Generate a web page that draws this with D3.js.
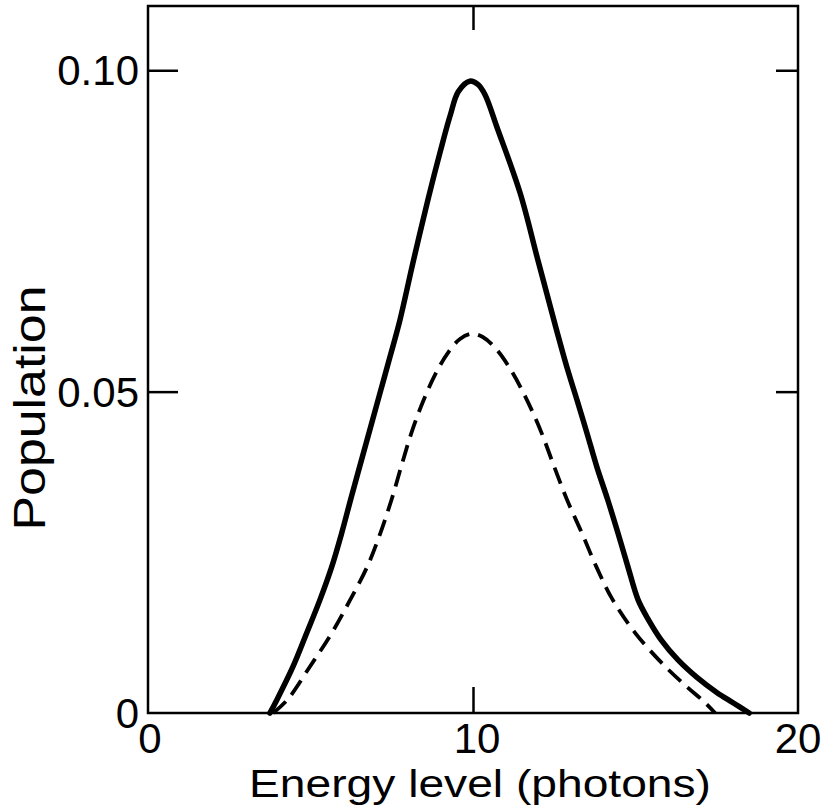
<!DOCTYPE html>
<html><head><meta charset="utf-8">
<script src="https://cdn.jsdelivr.net/npm/d3@7"></script>
<style>body{margin:0;background:#fff}</style>
</head><body>
<svg id="chart" width="833" height="809"></svg>
<script>
// Data
const solidX = [3.75,3.96,4.46,4.88,5.29,5.65,5.96,6.25,6.55,6.85,7.15,7.45,7.75,8.15,8.62,9.0,9.3,9.55,9.9,10.15,10.37,10.74,11.45,12.0,12.49,12.89,13.2,13.51,13.81,14.15,14.46,14.77,15.08,15.4,15.8,16.3,16.9,17.5,18.0,18.5];
const solidY = [0,0.002,0.0072,0.0124,0.0176,0.0227,0.028,0.0335,0.039,0.0445,0.05,0.0555,0.0611,0.0700,0.0800,0.0875,0.093,0.0967,0.0983,0.0978,0.0962,0.0911,0.0809,0.0704,0.0611,0.0538,0.0487,0.0435,0.0383,0.0331,0.028,0.0227,0.0176,0.0145,0.0113,0.0083,0.0055,0.0032,0.0016,0];
const dashX = [3.85,4.28,4.98,5.65,6.22,6.74,7.15,7.5,7.8,8.1,8.45,8.85,9.25,9.6,9.95,10.3,10.7,11.15,11.65,12.1,12.5,12.9,13.35,13.8,14.3,15.0,15.9,16.6,17.1,17.45];
const dashY = [0,0.002,0.0072,0.0124,0.0176,0.0227,0.028,0.0333,0.0385,0.0435,0.0483,0.0528,0.0562,0.0582,0.059,0.0585,0.0567,0.0535,0.0488,0.0437,0.0383,0.0331,0.028,0.0227,0.0176,0.0124,0.0073,0.004,0.0018,0];
const xTicks = [0,10,20];
const xTickLabels = ["0","10","20"];
const yTicks = [0,0.05,0.10];
const yTickLabels = ["0","0.05","0.10"];
const xTitle = "Energy level (photons)";
const yTitle = "Population";

const svg = d3.select("#chart");
const x = d3.scaleLinear().domain([0,20]).range([148,798]);
const y = d3.scaleLinear().domain([0,0.11]).range([713,6]);
const font = "'Liberation Sans', Arial, sans-serif";

// frame
svg.append("rect").attr("x",x(0)).attr("y",y(0.11)).attr("width",x(20)-x(0)).attr("height",y(0)-y(0.11))
  .attr("fill","none").attr("stroke","#000").attr("stroke-width",2.5);

// inner ticks via axes
const tickY = yTicks.filter(v=>v>0);
const tickX = xTicks.filter(v=>v>0 && v<20);
function strip(g){ g.select(".domain").remove(); g.selectAll("text").remove(); g.selectAll("line").attr("stroke","#000").attr("stroke-width",2.5); }
svg.append("g").attr("transform",`translate(${x(0)},0)`).call(d3.axisLeft(y).tickValues(tickY).tickSize(-30)).call(strip);
svg.append("g").attr("transform",`translate(${x(20)},0)`).call(d3.axisRight(y).tickValues(tickY).tickSize(-22)).call(strip);
svg.append("g").attr("transform",`translate(0,${y(0)})`).call(d3.axisBottom(x).tickValues(tickX).tickSize(-26)).call(strip);
svg.append("g").attr("transform",`translate(0,${y(0.11)})`).call(d3.axisTop(x).tickValues(tickX).tickSize(-24)).call(strip);

// y tick labels
svg.append("g").selectAll("text").data(yTicks).join("text")
  .attr("x", 139).attr("y", d=>y(d)+15)
  .attr("text-anchor","end").attr("font-family",font).attr("font-size",42)
  .text((d,i)=>yTickLabels[i]);
// x tick labels
svg.append("g").selectAll("text").data(xTicks).join("text")
  .attr("x", d=>x(d)+(d===0?2:d===10?4:0)).attr("y", 753)
  .attr("text-anchor","middle").attr("font-family",font).attr("font-size",42)
  .text((d,i)=>xTickLabels[i]);

// axis titles
svg.append("text").attr("x",480).attr("y",797).attr("text-anchor","middle")
  .attr("font-family",font).attr("font-size",38).attr("textLength",462).attr("lengthAdjust","spacingAndGlyphs")
  .text(xTitle);
svg.append("text").attr("transform","translate(45,408) rotate(-90)").attr("text-anchor","middle")
  .attr("font-family",font).attr("font-size",44).attr("textLength",245).attr("lengthAdjust","spacingAndGlyphs")
  .text(yTitle);

// curves
const line = d3.line().x(d=>x(d[0])).y(d=>y(d[1])).curve(d3.curveCatmullRom.alpha(0.5));
svg.append("path").datum(solidX.map((v,i)=>[v,solidY[i]])).attr("d",line)
  .attr("fill","none").attr("stroke","#000").attr("stroke-width",5.5).attr("stroke-linejoin","round").attr("stroke-linecap","round");
svg.append("path").datum(dashX.map((v,i)=>[v,dashY[i]])).attr("d",line)
  .attr("fill","none").attr("stroke","#000").attr("stroke-width",3.8).attr("stroke-dasharray","17,9");
</script>
</body></html>
